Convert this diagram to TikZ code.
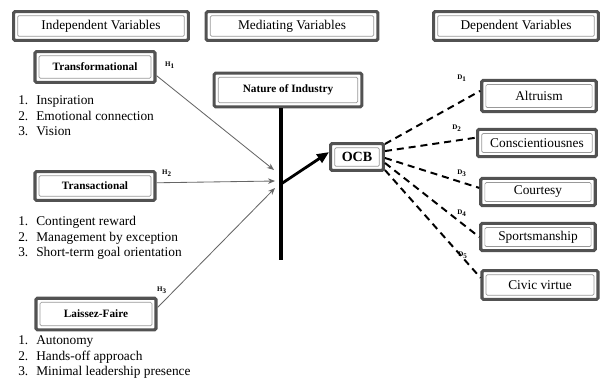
\documentclass[tikz,border=0pt]{standalone}
\usepackage{fontspec}
\setmainfont{Liberation Serif}
\usetikzlibrary{arrows.meta}

\newcommand{\lnum}[1]{\makebox[0.45cm][l]{#1.}}

\begin{document}
\begin{tikzpicture}[x=0.025cm,y=-0.025cm,
  box/.style={draw=black!68, line width=2.2pt, rounded corners=1pt, fill=white,
    inner sep=0pt, align=center,
    path picture={\draw[black!40,line width=0.5pt]
      ([shift={(2.9pt,2.9pt)}]path picture bounding box.south west) rectangle
      ([shift={(-2.9pt,-2.9pt)}]path picture bounding box.north east);}},
  hdr/.style={box, font=\fontsize{9.5}{11}\selectfont, minimum height=0.72cm},
  lead/.style={box, font=\bfseries\fontsize{8}{9}\selectfont, minimum width=3cm, minimum height=0.76cm},
  outc/.style={box, font=\fontsize{9.5}{11}\selectfont, minimum width=2.86cm, minimum height=0.68cm},
  lst/.style={anchor=base west, inner sep=0pt, font=\fontsize{9.5}{11}\selectfont},
  lbl/.style={inner sep=0pt, font=\bfseries\fontsize{5}{6}\selectfont},
  harr/.style={-{Stealth[length=5pt,width=4pt]}, black!60, line width=0.6pt},
  dsh/.style={line width=1.4pt, dash pattern=on 5pt off 3.5pt}]
\useasboundingbox (0,0) rectangle (601,378);

% headers
\node[hdr, minimum width=4.37cm] (indep) at (101,26) {Independent Variables};
\node[hdr, minimum width=4.29cm] (medi) at (292,26) {Mediating Variables};
\node[hdr, minimum width=4.12cm] (dep) at (516,26) {Dependent Variables};

% leadership styles
\node[lead, minimum height=0.77cm] (trf) at (95,67) {Transformational};
\node[lead, minimum height=0.72cm] (trs) at (95,186) {Transactional};
\node[lead, minimum height=0.79cm] (lf) at (96,314) {Laissez-Faire};

\node[lst] (trf1) at (18,104) {\lnum{1}Inspiration};
\node[lst] (trf2) at (18,120) {\lnum{2}Emotional connection};
\node[lst] (trf3) at (18,135) {\lnum{3}Vision};
\node[lst] (trs1) at (18,225) {\lnum{1}Contingent reward};
\node[lst] (trs2) at (18,241) {\lnum{2}Management by exception};
\node[lst] (trs3) at (18,256) {\lnum{3}Short-term goal orientation};
\node[lst] (lf1) at (18,344) {\lnum{1}Autonomy};
\node[lst] (lf2) at (18,360) {\lnum{2}Hands-off approach};
\node[lst] (lf3) at (18,375) {\lnum{3}Minimal leadership presence};

% mediator and OCB
\node[lead, minimum width=3.69cm, minimum height=0.84cm] (noi) at (288,90) {Nature of Industry};
\node[box, font=\bfseries\fontsize{10}{11}\selectfont, minimum width=1.32cm, minimum height=0.67cm] (ocb) at (357,157) {OCB};

\coordinate (barbot) at (281,260);
\coordinate (join) at (281,184);
\draw[line width=2.8pt] (noi.south -| barbot) -- (barbot);
\draw[line width=2pt, -{Triangle[length=8.5pt,width=7pt]}] (join) -- (ocb.170);

\coordinate (in1) at (274,170);
\coordinate (in2) at (275,181);
\coordinate (in3) at (275,188);
\draw[harr] (trf.-8) -- (in1);
\draw[harr] (trs.3) -- (in2);
\draw[harr] (lf.6) -- (in3);
\node[lbl] (h1) at (170,65) {H\textsubscript{1}};
\node[lbl] (h2) at (167,173) {H\textsubscript{2}};
\node[lbl] (h3) at (162,290) {H\textsubscript{3}};

% OCB dimensions
\node[outc, minimum height=0.78cm] (alt) at (539,96) {Altruism};
\node[outc, minimum width=2.97cm] (con) at (537,143) {Conscientiousnes};
\node[outc] (cou) at (538,192) {Courtesy};
\node[outc] (spo) at (538,237) {Sportsmanship};
\node[outc, minimum width=2.9cm, minimum height=0.72cm] (civ) at (540,285) {Civic virtue};

\draw[dsh] (ocb.25) -- (alt.175);
\draw[dsh] (ocb.12) -- (con.175);
\draw[dsh] (ocb.-2) -- (cou.176);
\draw[dsh] (ocb.-12) -- (spo.west);
\draw[dsh] (ocb.-25) -- (civ.173);
\node[lbl] (d1) at (462,78) {D\textsubscript{1}};
\node[lbl] (d2) at (457,128) {D\textsubscript{2}};
\node[lbl] (d3) at (462,173) {D\textsubscript{3}};
\node[lbl] (d4) at (462,213) {D\textsubscript{4}};
\node[lbl] (d5) at (463,255) {D\textsubscript{5}};
\end{tikzpicture}
\end{document}
